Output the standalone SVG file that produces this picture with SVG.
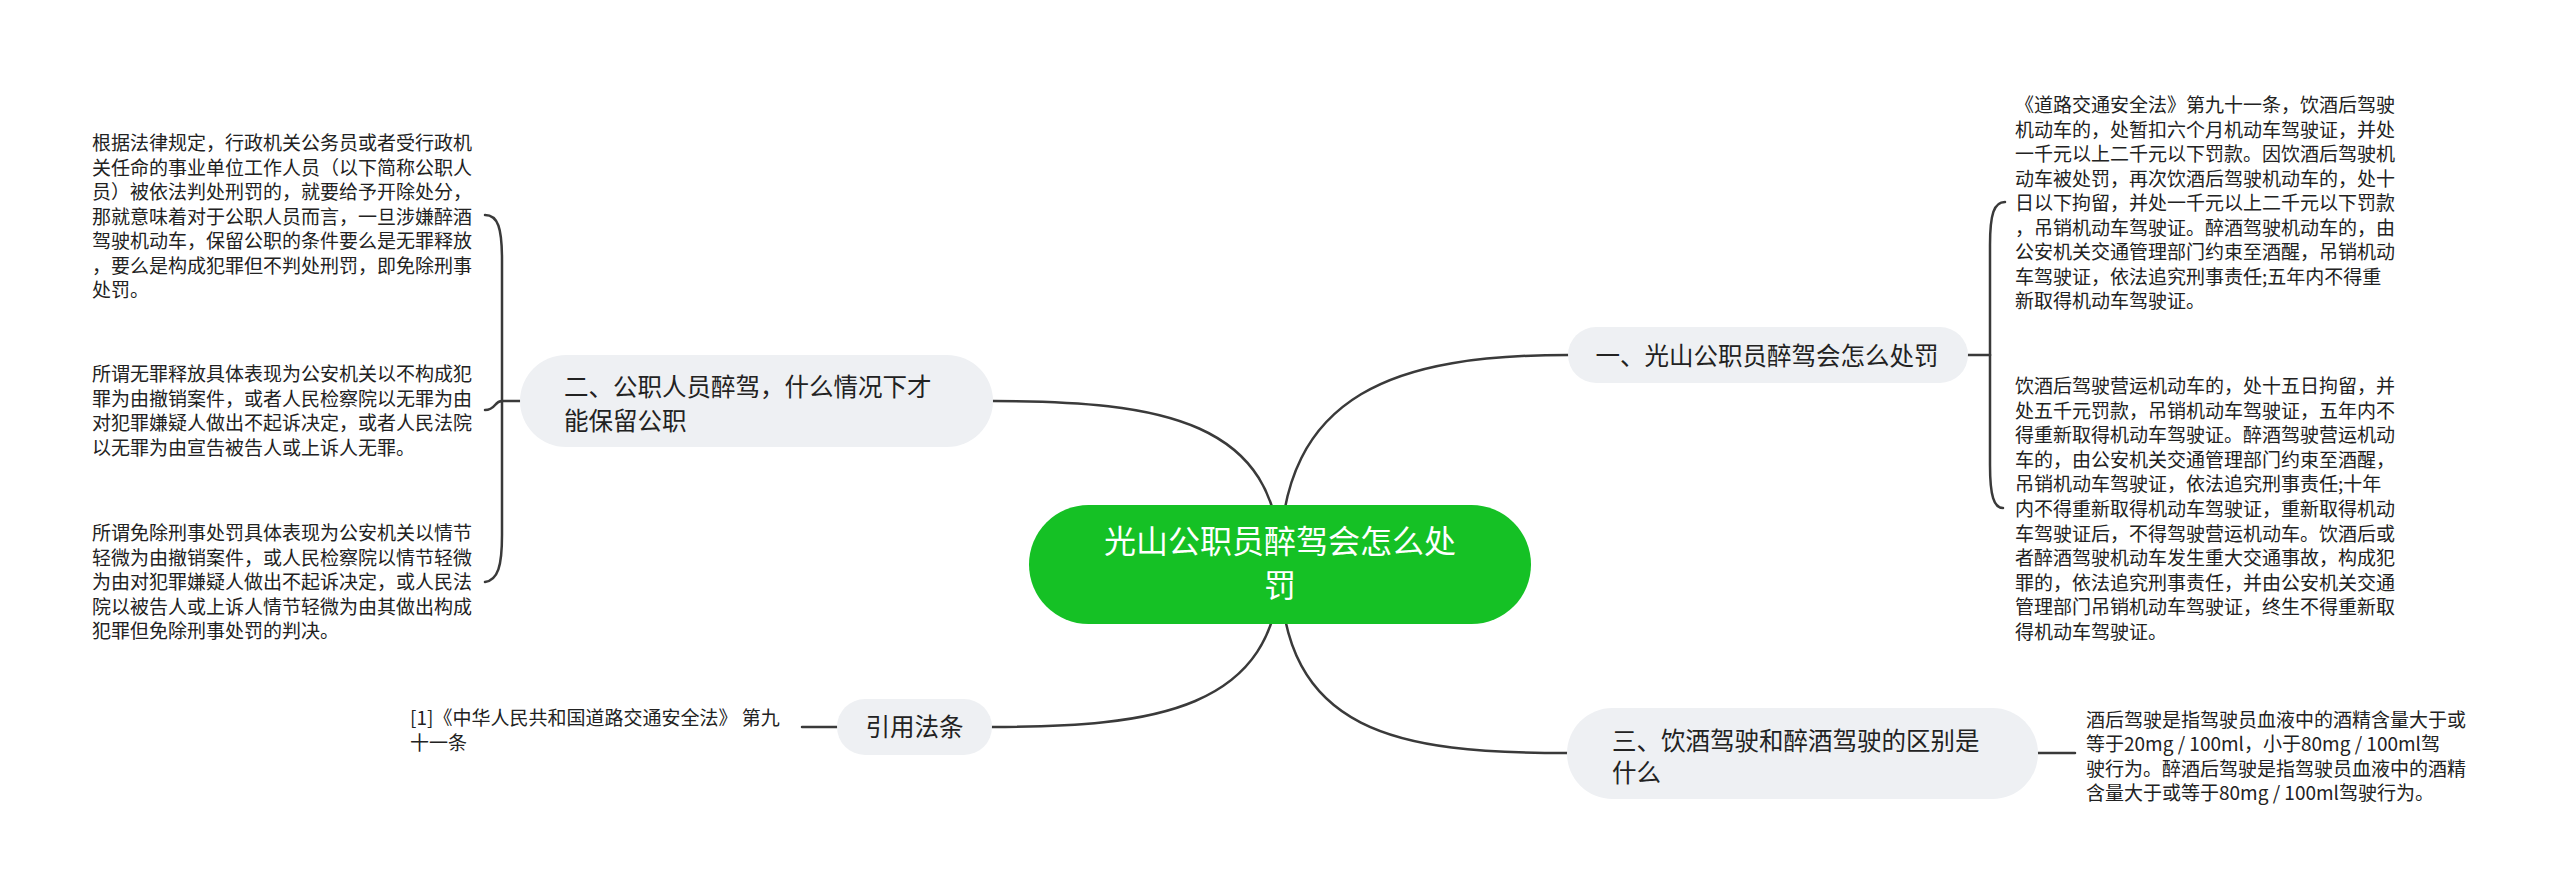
<svg xmlns="http://www.w3.org/2000/svg" width="2560" height="895" viewBox="0 0 2560 895">
<style>
.bg{fill:#ffffff}
.conn{fill:none;stroke:#3a3a3a;stroke-width:2.5;stroke-linecap:round}
.l1{fill:#eef0f3}
.root{fill:#15c125}
.t{font-family:"Noto Sans CJK SC","Noto Sans",sans-serif;fill:#222222}
.t1{font-size:24.5px}
.t2{font-size:19px}
.tr{font-family:"Noto Sans CJK SC","Noto Sans",sans-serif;font-size:32px;fill:#ffffff}
</style>
<rect class="bg" x="0" y="0" width="2560" height="895"/>
<g id="connectors">
<path class="conn" d="M1280,564 C1280,420 1160,401 993,401"/>
<path class="conn" d="M1280,564 C1280,390 1400,355 1568,355"/>
<path class="conn" d="M1280,564 C1280,735 1400,753 1567,753"/>
<path class="conn" d="M1280,564 C1280,712 1150,727 992,727"/>
<path class="conn" d="M520,401 L502,401"/>
<path class="conn" d="M502,401 L502,260 C502,228 498,215 485,215"/>
<path class="conn" d="M502,401 C494,401 496,410 485,410"/>
<path class="conn" d="M502,401 L502,535 C502,566 498,580 485,582"/>
<path class="conn" d="M1968,355 L1990,355"/>
<path class="conn" d="M1990,355 L1990,245 C1990,214 1994,202 2005,202"/>
<path class="conn" d="M1990,355 L1990,465 C1990,496 1994,508 2003,508"/>
<path class="conn" d="M2038,753 L2075,753"/>
<path class="conn" d="M837,727 L802,727"/>
</g>
<g id="root">
<rect class="root" x="1029" y="505" width="502" height="119" rx="59.5"/>
<text class="tr" x="1280" y="553" text-anchor="middle">光山公职员醉驾会怎么处</text>
<text class="tr" x="1280" y="597" text-anchor="middle">罚</text>
</g>
<g id="node1">
<rect class="l1" x="1568" y="327" width="400" height="56" rx="28"/>
<text class="t t1" x="1767" y="365" text-anchor="middle">一、光山公职员醉驾会怎么处罚</text>
</g>
<g id="node1a">
<text class="t t2" x="2015" y="112">《道路交通安全法》第九十一条，饮酒后驾驶</text>
<text class="t t2" x="2015" y="136.5">机动车的，处暂扣六个月机动车驾驶证，并处</text>
<text class="t t2" x="2015" y="161">一千元以上二千元以下罚款。因饮酒后驾驶机</text>
<text class="t t2" x="2015" y="185.5">动车被处罚，再次饮酒后驾驶机动车的，处十</text>
<text class="t t2" x="2015" y="210">日以下拘留，并处一千元以上二千元以下罚款</text>
<text class="t t2" x="2015" y="234.5">，吊销机动车驾驶证。醉酒驾驶机动车的，由</text>
<text class="t t2" x="2015" y="259">公安机关交通管理部门约束至酒醒，吊销机动</text>
<text class="t t2" x="2015" y="283.5">车驾驶证，依法追究刑事责任;五年内不得重</text>
<text class="t t2" x="2015" y="308">新取得机动车驾驶证。</text>
</g>
<g id="node1b">
<text class="t t2" x="2015" y="393">饮酒后驾驶营运机动车的，处十五日拘留，并</text>
<text class="t t2" x="2015" y="417.6">处五千元罚款，吊销机动车驾驶证，五年内不</text>
<text class="t t2" x="2015" y="442.2">得重新取得机动车驾驶证。醉酒驾驶营运机动</text>
<text class="t t2" x="2015" y="466.8">车的，由公安机关交通管理部门约束至酒醒，</text>
<text class="t t2" x="2015" y="491.4">吊销机动车驾驶证，依法追究刑事责任;十年</text>
<text class="t t2" x="2015" y="516">内不得重新取得机动车驾驶证，重新取得机动</text>
<text class="t t2" x="2015" y="540.6">车驾驶证后，不得驾驶营运机动车。饮酒后或</text>
<text class="t t2" x="2015" y="565.2">者醉酒驾驶机动车发生重大交通事故，构成犯</text>
<text class="t t2" x="2015" y="589.8">罪的，依法追究刑事责任，并由公安机关交通</text>
<text class="t t2" x="2015" y="614.4">管理部门吊销机动车驾驶证，终生不得重新取</text>
<text class="t t2" x="2015" y="639">得机动车驾驶证。</text>
</g>
<g id="node2">
<rect class="l1" x="520" y="355" width="473" height="92" rx="46"/>
<text class="t t1" x="564" y="396">二、公职人员醉驾，什么情况下才</text>
<text class="t t1" x="564" y="430">能保留公职</text>
</g>
<g id="node2a">
<text class="t t2" x="92" y="150">根据法律规定，行政机关公务员或者受行政机</text>
<text class="t t2" x="92" y="174.5">关任命的事业单位工作人员（以下简称公职人</text>
<text class="t t2" x="92" y="199">员）被依法判处刑罚的，就要给予开除处分，</text>
<text class="t t2" x="92" y="223.5">那就意味着对于公职人员而言，一旦涉嫌醉酒</text>
<text class="t t2" x="92" y="248">驾驶机动车，保留公职的条件要么是无罪释放</text>
<text class="t t2" x="92" y="272.5">，要么是构成犯罪但不判处刑罚，即免除刑事</text>
<text class="t t2" x="92" y="297">处罚。</text>
</g>
<g id="node2b">
<text class="t t2" x="92" y="381">所谓无罪释放具体表现为公安机关以不构成犯</text>
<text class="t t2" x="92" y="405.5">罪为由撤销案件，或者人民检察院以无罪为由</text>
<text class="t t2" x="92" y="430">对犯罪嫌疑人做出不起诉决定，或者人民法院</text>
<text class="t t2" x="92" y="454.5">以无罪为由宣告被告人或上诉人无罪。</text>
</g>
<g id="node2c">
<text class="t t2" x="92" y="540">所谓免除刑事处罚具体表现为公安机关以情节</text>
<text class="t t2" x="92" y="564.5">轻微为由撤销案件，或人民检察院以情节轻微</text>
<text class="t t2" x="92" y="589">为由对犯罪嫌疑人做出不起诉决定，或人民法</text>
<text class="t t2" x="92" y="613.5">院以被告人或上诉人情节轻微为由其做出构成</text>
<text class="t t2" x="92" y="638">犯罪但免除刑事处罚的判决。</text>
</g>
<g id="node3">
<rect class="l1" x="1567" y="708" width="471" height="91" rx="45.5"/>
<text class="t t1" x="1612" y="750">三、饮酒驾驶和醉酒驾驶的区别是</text>
<text class="t t1" x="1612" y="782">什么</text>
</g>
<g id="node3a">
<text class="t t2" x="2086" y="727">酒后驾驶是指驾驶员血液中的酒精含量大于或</text>
<text class="t t2" x="2086" y="751.3">等于20mg / 100ml，小于80mg / 100ml驾</text>
<text class="t t2" x="2086" y="775.6">驶行为。醉酒后驾驶是指驾驶员血液中的酒精</text>
<text class="t t2" x="2086" y="800">含量大于或等于80mg / 100ml驾驶行为。</text>
</g>
<g id="node4">
<rect class="l1" x="837" y="699" width="155" height="56" rx="28"/>
<text class="t t1" x="914.5" y="736" text-anchor="middle">引用法条</text>
</g>
<g id="node4a">
<text class="t t2" x="410" y="725">[1]《中华人民共和国道路交通安全法》 第九</text>
<text class="t t2" x="410" y="749.5">十一条</text>
</g>
</svg>
